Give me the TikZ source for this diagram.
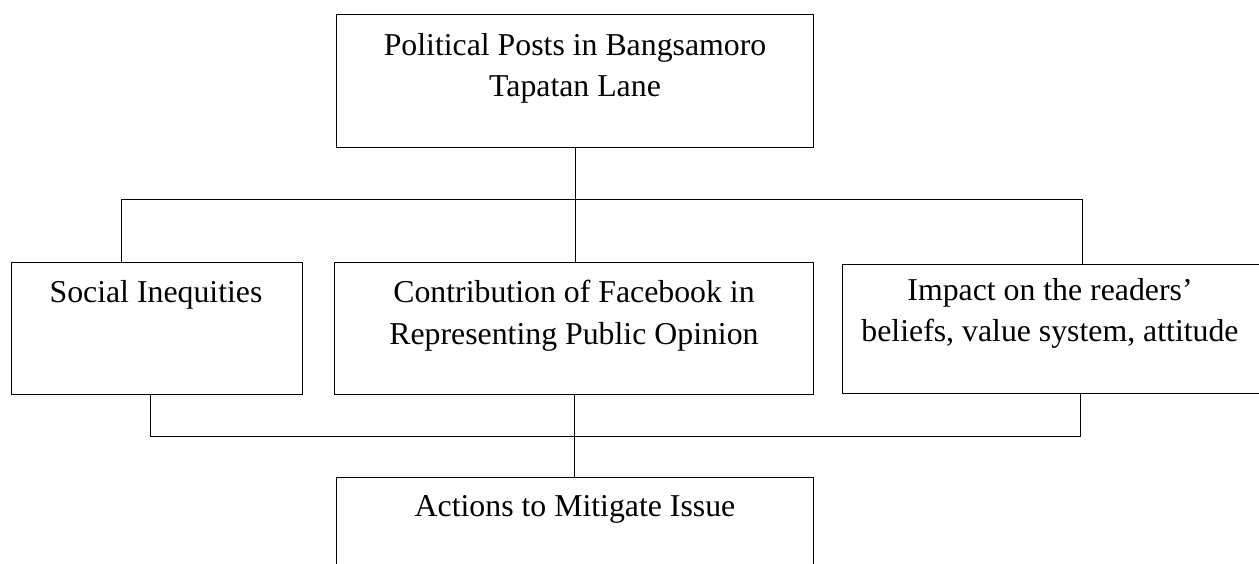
\documentclass[tikz,border=0pt]{standalone}
\usepackage{fontspec}
\setmainfont{Liberation Serif}
\begin{document}
\tikzset{
  box/.style={draw, line width=1.4pt, inner sep=0pt, anchor=north west},
  txt/.style={font=\fontsize{31.8}{41.5}\selectfont, align=center, inner sep=0pt, anchor=north},
  link/.style={line width=1pt}
}
\begin{tikzpicture}[x=1pt,y=-1pt]
\useasboundingbox (0,0) rectangle (1259,563);
\clip (0,0) rectangle (1259,563);
% boxes
\node[box, minimum width=477pt, minimum height=133pt] (top) at (336,14) {};
\node[box, minimum width=291pt, minimum height=132pt] (left) at (11,262) {};
\node[box, minimum width=479pt, minimum height=132pt] (mid) at (334,262) {};
\node[box, minimum width=420pt, minimum height=129pt] (right) at (842,264) {};
\node[box, minimum width=477pt, minimum height=100pt] (bot) at (336,477) {};
% texts
\node[txt] (topT) at (575,33) {Political Posts in Bangsamoro\\Tapatan Lane};
\node[txt] (leftT) at (156,280) {Social Inequities};
\node[txt] (midT) at (574,280) {Contribution of Facebook in\\Representing Public Opinion};
\node[txt] (rightT) at (1050,278) {Impact on the readers’\\beliefs, value system, attitude};
\node[txt] (botT) at (575,495) {Actions to Mitigate Issue};
% connectors
\coordinate (hL) at (121,199);
\coordinate (hR) at (1082,199);
\coordinate (bL) at (150,436);
\coordinate (bR) at (1080,436);
\draw[link] (top.south) -- (top.south |- mid.north);
\draw[link] (hL |- left.north) -- (hL) -- (hR) -- (hR |- right.north);
\draw[link] (left.south -| bL) -- (bL) -- (bR) -- (right.south -| bR);
\draw[link] (mid.south) -- (mid.south |- bot.north);
\end{tikzpicture}
\end{document}
